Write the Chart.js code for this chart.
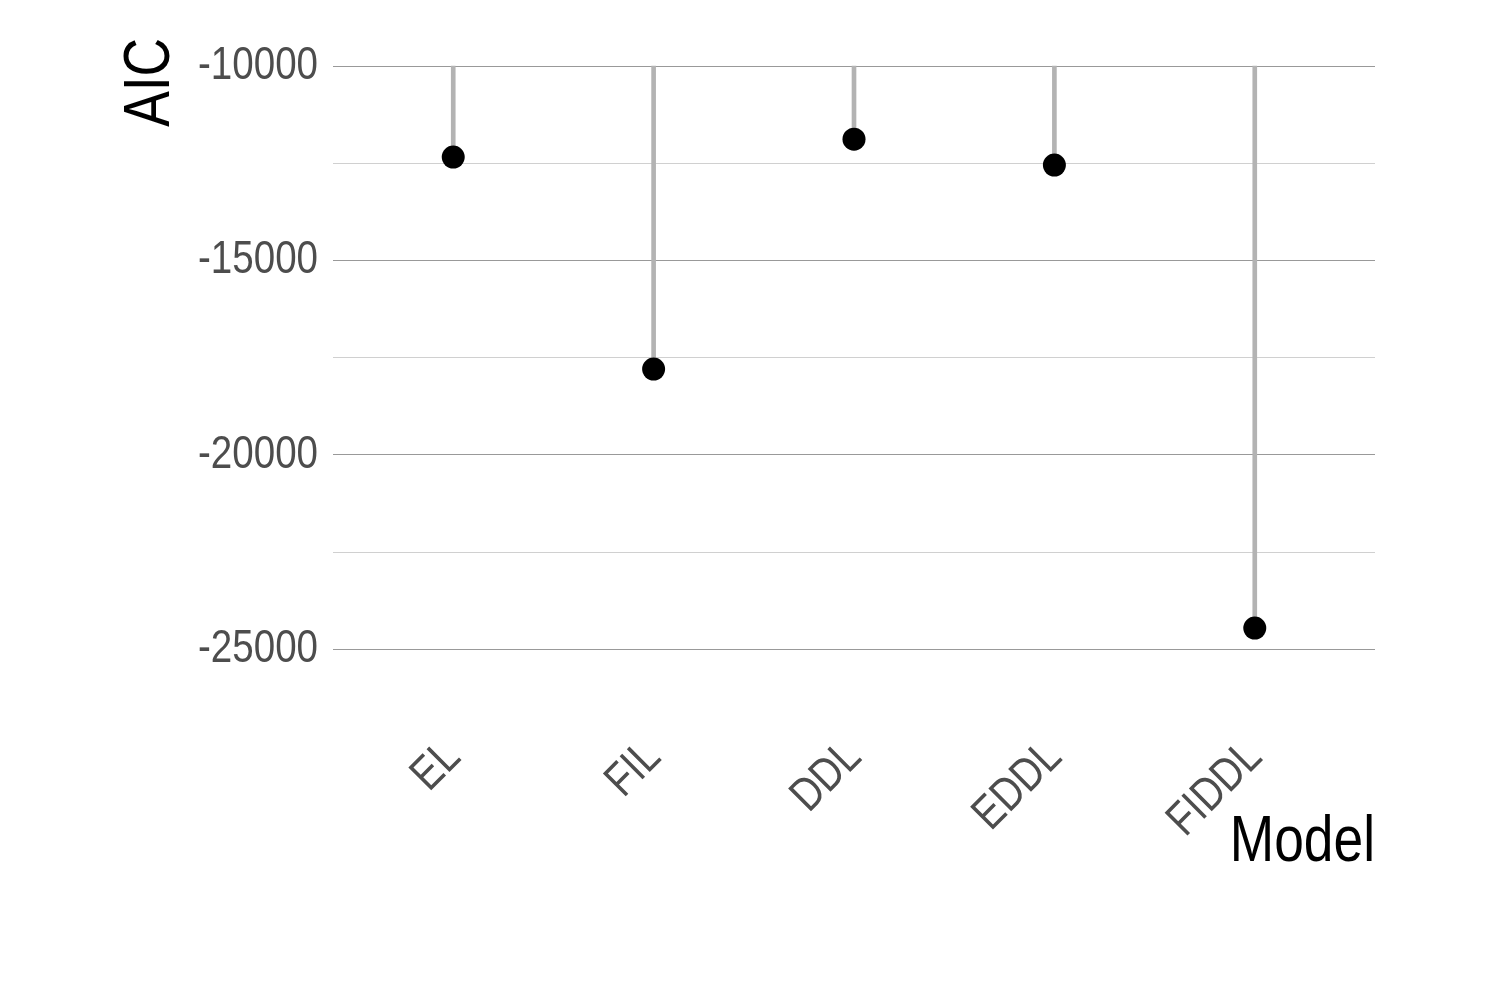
<!DOCTYPE html>
<html>
<head>
<meta charset="utf-8">
<script src="https://cdn.jsdelivr.net/npm/chart.js@4"></script>
<style>
  html, body { margin: 0; padding: 0; background: #fff; }
  #wrap { width: 1500px; height: 1001px; }
</style>
</head>
<body>
<div id="wrap"><canvas id="myChart"></canvas></div>
<script>
// values
const models = ['EL', 'FIL', 'DDL', 'EDDL', 'FIDDL'];
const aic = [-12340, -17790, -11880, -12545, -24450];
const baseline = -10000;
const yTicks = [-25000, -22500, -20000, -17500, -15000, -12500, -10000];

const FONT = "'Liberation Sans Narrow', 'Arial Narrow', 'Liberation Sans', Arial, sans-serif";

// no narrow face is installed, so squeeze Liberation Sans to Arial Narrow widths
const NARROW = 0.82;
const proto = CanvasRenderingContext2D.prototype;
const origFill = proto.fillText;
const origMeasure = proto.measureText;
proto.fillText = function (text, x, y) {
    this.save();
    this.translate(x, y);
    this.scale(NARROW, 1);
    origFill.call(this, text, 0, 0);
    this.restore();
};
proto.measureText = function (text) {
    const m = origMeasure.call(this, text);
    return {
        width: m.width * NARROW,
        actualBoundingBoxAscent: m.actualBoundingBoxAscent,
        actualBoundingBoxDescent: m.actualBoundingBoxDescent,
        actualBoundingBoxLeft: m.actualBoundingBoxLeft * NARROW,
        actualBoundingBoxRight: m.actualBoundingBoxRight * NARROW
    };
};

const data = {
    datasets: [
        {
            type: 'scatter',
            data: models.map((m, i) => ({ x: i, y: aic[i] })),
            pointRadius: 11.5,
            pointBackgroundColor: '#000',
            pointBorderWidth: 0,
            order: 0
        },
        {
            type: 'bar',
            data: models.map((m, i) => ({ x: i, y: [baseline, aic[i]] })),
            backgroundColor: '#b3b3b3',
            barThickness: 4,
            order: 1
        }
    ]
};

const config = {
    data: data,
    options: {
        responsive: true,
        maintainAspectRatio: false,
        animation: false,
        layout: { padding: { left: 112, right: 125, top: 38, bottom: 119 } },
        plugins: { legend: { display: false }, tooltip: { enabled: false } },
        scales: {
            x: {
                type: 'linear',
                offset: false,
                min: -0.6,
                max: 4.6,
                afterBuildTicks: s => { s.ticks = models.map((m, i) => ({ value: i })); },
                afterFit: s => { s.height = 226; s.paddingLeft = 0; s.paddingRight = 0; },
                grid: { display: false, offset: false },
                border: { display: false },
                ticks: {
                    callback: v => models[v],
                    minRotation: 45,
                    maxRotation: 45,
                    padding: 66,
                    color: '#4d4d4d',
                    font: { family: FONT, size: 47 }
                },
                title: {
                    display: true,
                    text: 'Model',
                    align: 'end',
                    color: '#000',
                    padding: 0,
                    font: { family: FONT, size: 65 }
                }
            },
            y: {
                min: -25169,
                max: -9278,
                afterBuildTicks: s => { s.ticks = yTicks.map(v => ({ value: v })); },
                afterFit: s => { s.width = 221; s.paddingTop = 0; s.paddingBottom = 0; },
                border: { display: false },
                grid: {
                    drawTicks: false,
                    color: c => (c.tick && c.tick.value % 5000 === 0) ? '#999999' : '#d0d0d0',
                    lineWidth: 1.1
                },
                ticks: {
                    callback: v => (v % 5000 === 0 ? String(v) : ''),
                    padding: 15,
                    color: '#4d4d4d',
                    font: { family: FONT, size: 47 }
                },
                title: {
                    display: true,
                    text: 'AIC',
                    align: 'end',
                    color: '#000',
                    padding: 0,
                    font: { family: FONT, size: 65 }
                }
            }
        }
    }
};

const ctx = document.getElementById('myChart').getContext('2d');
const myChart = new Chart(ctx, config);
</script>
</body>
</html>
